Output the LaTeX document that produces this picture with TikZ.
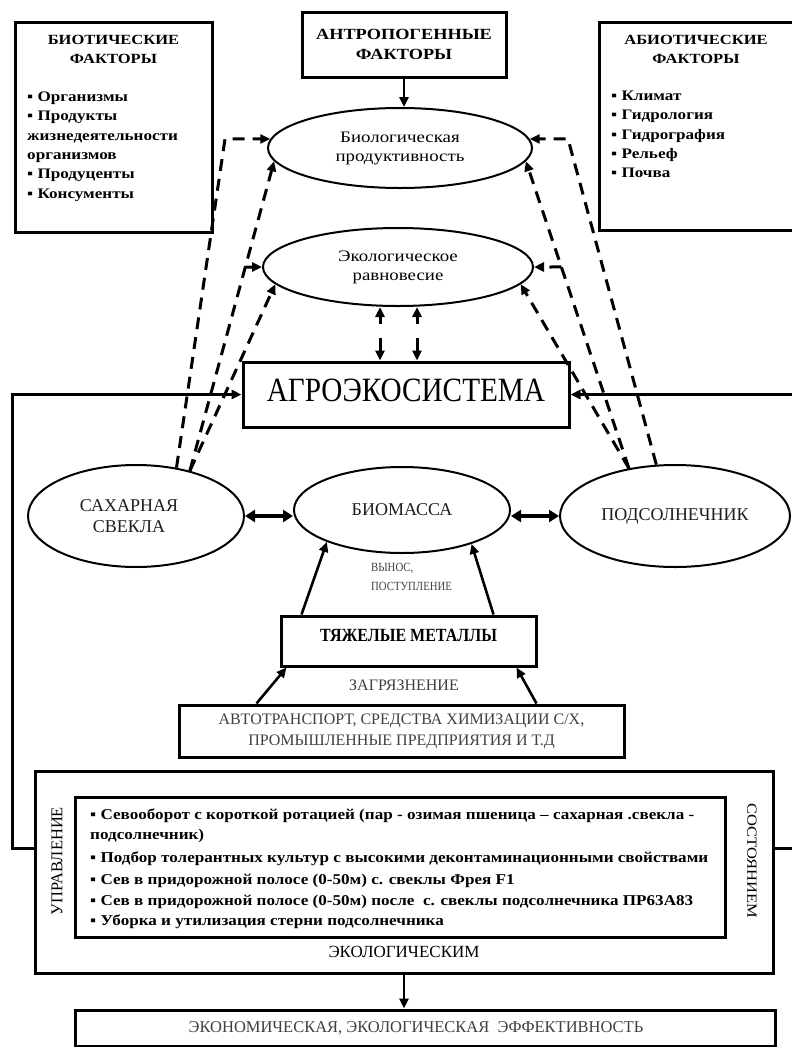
\documentclass[tikz,border=0pt]{standalone}
\usepackage{fontspec}
\setmainfont{Liberation Serif}
\newfontfamily\wsf[FakeStretch=1.18]{Liberation Serif}
\newfontfamily\isf[FakeStretch=1.14]{Liberation Serif}
\newfontfamily\csf[FakeStretch=0.86]{Liberation Serif}
\usetikzlibrary{arrows.meta,shapes.geometric,calc}
\newcommand{\fsz}[2]{\fontsize{#1}{#2}\selectfont}
\definecolor{lg}{HTML}{404040}
\definecolor{tg}{HTML}{1E1E1E}
\begin{document}
\begin{tikzpicture}[x=1pt,y=-1pt,
  box/.style={draw,line width=3pt,inner sep=0pt},
  ell/.style={draw,ellipse,line width=2pt,inner sep=0pt,align=center},
  tri/.style={-{Triangle[length=10pt,width=9pt]}},
  conn/.style={line width=3pt,line join=miter,tri},
  sarr/.style={line width=2.6pt,tri},
  dblarr/.style={line width=4pt,{Triangle[length=10pt,width=12pt]}-{Triangle[length=10pt,width=12pt]}},
  dl/.style={line width=3pt,dash pattern=on 12pt off 8pt,tri},
  ddash/.style={line width=3pt,{Triangle[length=10pt,width=9pt]}-{Triangle[length=10pt,width=9pt]},dash pattern=on 8pt off 14pt on 30pt off 1pt},
  lst/.style={anchor=west,inner sep=0pt,text height=10pt,text depth=3.5pt,font={\wsf\bfseries\fsz{14.5}{18}}},
  inl/.style={anchor=west,inner sep=0pt,text height=10pt,text depth=3.5pt,font={\isf\bfseries\fsz{15}{18}}}
]
\clip (0,0) rectangle (792,1047);
\fill[white] (0,0) rectangle (792,1047);

% ---- top boxes
\node[box,minimum width=197pt,minimum height=210pt] (biot) at (113.5,127) {};
\node[font={\wsf\bfseries\fsz{14}{19.5}},align=center,inner sep=0pt] (biott) at (113.5,49.5) {БИОТИЧЕСКИЕ\\ФАКТОРЫ};
\node[lst] (b1) at (27,98) {▪ Организмы};
\node[lst] (b2) at (27,117) {▪ Продукты};
\node[lst] (b3) at (27,137) {жизнедеятельности};
\node[lst] (b4) at (27,156) {организмов};
\node[lst] (b5) at (27,175) {▪ Продуценты};
\node[lst] (b6) at (27,195) {▪ Консументы};

\node[box,minimum width=197pt,minimum height=208pt] (abio) at (697.5,126) {};
\node[font={\wsf\bfseries\fsz{14}{19.5}},align=center,inner sep=0pt] (abiot) at (696,49.5) {АБИОТИЧЕСКИЕ\\ФАКТОРЫ};
\node[lst] (a1) at (611,97) {▪ Климат};
\node[lst] (a2) at (611,116) {▪ Гидрология};
\node[lst] (a3) at (611,136) {▪ Гидрография};
\node[lst] (a4) at (611,155) {▪ Рельеф};
\node[lst] (a5) at (611,174) {▪ Почва};

\node[box,minimum width=204pt,minimum height=65pt,font={\wsf\bfseries\fsz{15.5}{20}},align=center] (anth) at (404,44.5) {АНТРОПОГЕННЫЕ\\ФАКТОРЫ};

% ---- ellipses
\node[ell,minimum width=264pt,minimum height=80pt,font={\wsf\fsz{16}{19}}] (bp) at (400,148) {Биологическая\\продуктивность};
\node[ell,minimum width=270pt,minimum height=78pt,font={\wsf\fsz{16}{19}}] (eco) at (398,267) {Экологическое\\равновесие};

\node[box,minimum width=326pt,minimum height=65pt,font={\csf\fsz{34}{34}},text depth=9pt] (agro) at (406,394.5) {АГРОЭКОСИСТЕМА};

\node[ell,minimum width=216pt,minimum height=102pt,font={\fsz{18}{21}},text=tg] (sb) at (136,516) {САХАРНАЯ\hspace*{14pt}\\СВЕКЛА\hspace*{14pt}};
\node[ell,minimum width=216pt,minimum height=86pt,font={\fsz{18}{21}},text=tg] (bm) at (402,510) {БИОМАССА};
\node[ell,minimum width=230pt,minimum height=102pt,font={\fsz{18}{21}},text=tg] (sf) at (675,516) {ПОДСОЛНЕЧНИК};

\node[anchor=west,align=left,inner sep=0pt,font={\csf\fsz{12.5}{19}},text=lg] (vyn) at (371,576.5) {ВЫНОС,\\ПОСТУПЛЕНИЕ};

\node[box,minimum width=255pt,minimum height=50pt,font={\csf\bfseries\fsz{18.6}{18.6}},text depth=12pt] (tm) at (408.5,641) {ТЯЖЕЛЫЕ МЕТАЛЛЫ};
\node[font={\fsz{16}{16}},text=lg,inner sep=0pt] (zag) at (404,685) {ЗАГРЯЗНЕНИЕ};
\node[box,minimum width=445pt,minimum height=52pt,font={\fsz{16}{21}},text=lg,align=center] (auto) at (401.5,731) {АВТОТРАНСПОРТ, СРЕДСТВА ХИМИЗАЦИИ С/Х,\\ПРОМЫШЛЕННЫЕ ПРЕДПРИЯТИЯ И Т.Д};

% ---- management block
\node[box,minimum width=738pt,minimum height=202pt] (big) at (404,872) {};
\node[box,minimum width=650pt,minimum height=140pt] (inner) at (400,867) {};
\node[inl] (i1) at (90,816) {▪ Севооборот с короткой ротацией (пар - озимая пшеница – сахарная .свекла -};
\node[inl] (i2) at (90,836) {подсолнечник)};
\node[inl] (i3) at (90,859) {▪ Подбор толерантных культур с высокими деконтаминационными свойствами};
\node[inl] (i4) at (90,881) {▪ Сев в придорожной полосе (0-50м) с. свеклы Фрея F1};
\node[inl] (i5) at (90,902) {▪ Сев в придорожной полосе (0-50м) после\ \ с. свеклы подсолнечника ПР63А83};
\node[inl] (i6) at (90,922) {▪ Уборка и утилизация стерни подсолнечника};
\node[rotate=90,font={\fsz{16.5}{16.5}},inner sep=0pt] (upr) at (57,861) {УПРАВЛЕНИЕ};
\node[rotate=-90,font={\wsf\fsz{14}{14}},inner sep=0pt] (sost) at (752,861) {СОСТОЯНИЕМ};
\node[font={\fsz{17}{17}},inner sep=0pt] (ekol) at (404,952) {ЭКОЛОГИЧЕСКИМ};

\node[box,minimum width=700pt,minimum height=36pt,font={\fsz{16.5}{16.5}},text=lg] (eff) at (425,1028) {ЭКОНОМИЧЕСКАЯ, ЭКОЛОГИЧЕСКАЯ\ \ ЭФФЕКТИВНОСТЬ\hspace*{18pt}};

% ---- helper coordinates
\coordinate (xL) at (225,0);
\coordinate (xR) at (568,0);
\coordinate (x380) at (380,0);
\coordinate (x417) at (417,0);
\coordinate (lx) at (12,0);
\coordinate (rx) at (797,0);
\coordinate (ly) at (0,848);
\coordinate (eWx) at (150,0);
\coordinate (eEx) at (650,0);
\coordinate (cL) at (bp.176 -| xL);
\coordinate (cR) at (bp.4 -| xR);
\coordinate (eWL) at (eco.west -| eWx);
\coordinate (eER) at (eco.east -| eEx);
\coordinate (bL) at (intersection of sb.40--bp.186 and eco.west--eWL);
\coordinate (bR) at (intersection of sf.134--bp.354 and eco.east--eER);

% ---- solid connectors
\draw[sarr] (anth.south) -- (anth.south |- bp.north);
\draw[conn] (ly -| big.west) -- (ly -| lx) -- (agro.west -| lx) -- (agro.west);
\draw[conn] (ly -| big.east) -- (ly -| rx) -- (agro.east -| rx) -- (agro.east);
\draw[dblarr] (sb.east) -- (sb.east -| bm.west);
\draw[dblarr] (sb.east -| bm.east) -- (sb.east -| sf.west);
\draw[sarr] ($(tm.north west)+(22,0)$) -- (bm.203);
\draw[sarr] ($(tm.north east)+(-44,0)$) -- (bm.334);
\draw[sarr] ($(auto.north west)+(79,0)$) -- ($(tm.south west)+(7,0)$);
\draw[sarr] ($(auto.north east)+(-89,0)$) -- ($(tm.south east)+(-21,0)$);
\draw[sarr] (big.south) -- (big.south |- eff.north);

% ---- dashed connectors
\draw[ddash] (x380 |- eco.south) -- (x380 |- agro.north);
\draw[ddash] (x417 |- eco.south) -- (x417 |- agro.north);

\draw[dl] (sb.50) -- (cL) -- (bp.176);
\draw[dl] (sb.40) -- (bp.186);
\draw[dl] (bL) -- (eco.west);
\draw[dl] (sb.40) -- (eco.188);

\draw[dl] (sf.110) -- (cR) -- (bp.4);
\draw[dl] (sf.134) -- (bp.354);
\draw[dl] (bR) -- (eco.east);
\draw[dl] (sf.134) -- (eco.352);
\end{tikzpicture}
\end{document}
